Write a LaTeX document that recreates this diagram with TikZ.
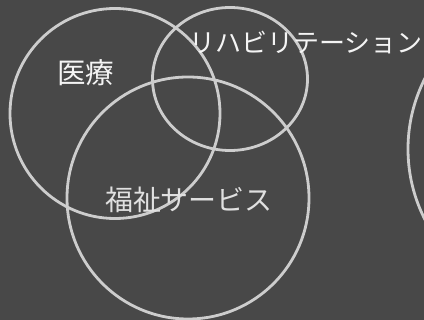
\documentclass[tikz,border=0pt]{standalone}
\usepackage{fontspec}
\newfontfamily\jp{Noto Sans CJK JP}
\usetikzlibrary{shapes.geometric}
\definecolor{bg}{HTML}{484848}
\definecolor{ringc}{HTML}{CDCDCD}
\definecolor{txt}{HTML}{F4F4F4}
\tikzset{
  ring/.style={draw=ringc, line width=2.8pt, inner sep=0pt, outer sep=0pt},
  lbl/.style={text=txt, font=\jp\fontsize{26}{26}\selectfont, inner sep=0pt}
}
\begin{document}
\begin{tikzpicture}[x=1pt,y=-1pt]
\fill[bg] (0,0) rectangle (424,320);
\useasboundingbox (0,0) rectangle (424,320);
\node[ring, circle, minimum size=210pt] (med) at (115,113.5) {};
\node[ring, ellipse, minimum width=155pt, minimum height=143pt] (reh) at (230,79) {};
\node[ring, circle, minimum size=242pt] (wel) at (188,198) {};
\node[ring, circle, minimum size=310pt] (rgt) at (563,149) {};
\node[lbl, font=\jp\fontsize{28.5}{28.5}\selectfont] (tmed) at (86,73) {医療};
\node[lbl] (treh) at (306,43) {リハビリテーション};
\node[lbl, font=\jp\fontsize{28}{28}\selectfont, text=txt!92!black] (twel) at (189,200) {福祉サービス};
\end{tikzpicture}
\end{document}
